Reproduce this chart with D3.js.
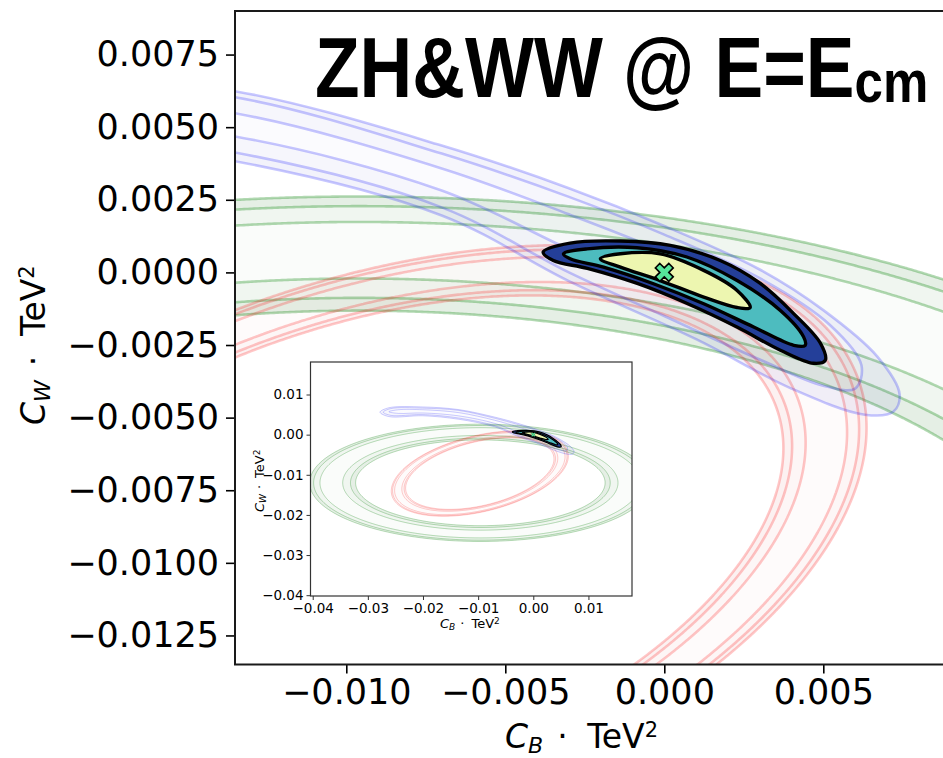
<!DOCTYPE html>
<html>
<head>
<meta charset="utf-8">
<script src="https://cdn.jsdelivr.net/npm/d3@7"></script>
<style>
  body { margin: 0; background: #fff; }
  svg { display: block; font-family: "DejaVu Sans", sans-serif; }
</style>
</head>
<body>
<svg id="chart" width="943" height="758"></svg>
<script>
// ---- data ----
const xTicks = [-0.010, -0.005, 0.000, 0.005];
const yTicks = [0.0075, 0.0050, 0.0025, 0.0000, -0.0025, -0.0050, -0.0075, -0.0100, -0.0125];
const insetXTicks = [-0.04, -0.03, -0.02, -0.01, 0.00, 0.01];
const insetYTicks = [0.01, 0.00, -0.01, -0.02, -0.03, -0.04];

// chi2 levels of the drawn contours (68%, 95%, 99% for 2 params)
const levels = [2.30, 5.99, 9.21];

// zero-locus ellipses of the single measurements: centre x, centre y, semi-axis a, semi-axis b, tilt (deg)
const redLocus = [-0.0097, -0.0097, 0.0156, 0.0085, 22];
const redSigma = 0.058;
const greenLocus = [-0.0096, -0.0120, 0.0271, 0.0128, 0];
const greenSigma = 0.10;

// blue band, contour lines (CB, CW)
const blue68 = [[-0.0262,0.0057],[-0.0245,0.0062],[-0.0200,0.0062],[-0.0135,0.00548],[-0.0070,0.00358],
  [-0.0030,0.0020],[0.0000,0.0007],[0.0025,-0.0006],[0.0040,-0.0016],[0.0038,-0.0023],[0.0025,-0.0017],
  [0.0000,-0.0006],[-0.0030,0.0008],[-0.0070,0.00282],[-0.0135,0.00468],[-0.0200,0.0054],[-0.0245,0.0053]];
const blue95 = [[-0.0272,0.0056],[-0.0258,0.0065],[-0.0200,0.0066],[-0.0135,0.00603],[-0.0070,0.00409],
  [-0.0030,0.0026],[0.0000,0.0013],[0.0030,-0.0002],[0.0052,-0.0018],[0.0062,-0.0032],[0.0060,-0.0040],
  [0.0050,-0.0039],[0.0030,-0.0030],[0.0000,-0.0015],[-0.0030,0.0000],[-0.0070,0.00224],[-0.0135,0.00413],
  [-0.0200,0.0050],[-0.0258,0.0048]];
const blue99 = [[-0.0278,0.0056],[-0.0262,0.0067],[-0.0200,0.0069],[-0.0135,0.00624],[-0.0070,0.00437],
  [-0.0030,0.0029],[0.0000,0.0016],[0.0030,0.0001],[0.0050,-0.0013],[0.0067,-0.0029],[0.0074,-0.0042],
  [0.0072,-0.0048],[0.0063,-0.0049],[0.0040,-0.0040],[0.0010,-0.0023],[-0.0030,-0.0003],[-0.0070,0.00196],
  [-0.0135,0.00383],[-0.0200,0.0047],[-0.0262,0.0045]];

// combined ZH & WW contours
const zhww68 = [[-0.00201,0.00047],[-0.00138,0.00064],[-0.00013,0.00064],[0.00124,0.00007],[0.00229,-0.00062],
  [0.00270,-0.00121],[0.00229,-0.00121],[0.00124,-0.00085],[-0.00013,-0.00028],[-0.00138,0.00018]];
const zhww95 = [[-0.00317,0.00064],[-0.00243,0.00081],[-0.00086,0.00085],[0.00071,0.00053],[0.00229,-0.00028],
  [0.00365,-0.00131],[0.00438,-0.00222],[0.00443,-0.00251],[0.00407,-0.00251],[0.00281,-0.00188],
  [0.00124,-0.00108],[-0.00034,-0.00039],[-0.00191,0.00018],[-0.00296,0.00047]];
const zhww99 = [[-0.00381,0.00070],[-0.00296,0.00101],[-0.00138,0.00108],[0.00019,0.00093],[0.00176,0.00041],
  [0.00302,-0.00038],[0.00406,-0.00141],[0.00491,-0.00244],[0.00506,-0.00303],[0.00469,-0.00313],
  [0.00365,-0.00268],[0.00230,-0.00189],[0.00072,-0.00107],[-0.00085,-0.00038],[-0.00242,0.00014],[-0.00349,0.00041]];
const bestFit = [0, 0];

// ---- colours ----
const redStyle = { line: "rgba(255,0,0,0.22)", fills: ["rgba(200,0,0,0.015)", "rgba(200,0,0,0.035)", "rgba(200,0,0,0.055)"] };
const greenStyle = { line: "rgba(0,128,0,0.30)", fills: ["rgba(0,100,0,0.02)", "rgba(0,100,0,0.06)", "rgba(0,100,0,0.10)"] };
const blueStyle = { line: "rgba(0,0,255,0.22)", fills: ["rgba(0,0,180,0.015)", "rgba(0,0,180,0.035)", "rgba(0,0,180,0.05)"] };
const zhwwFills = ["#edf6b0", "#4dbcbf", "#243f99"];

const svg = d3.select("#chart");

function chi2(e, s, x, y) {
  const t = e[4] * Math.PI / 180;
  const dx = x - e[0], dy = y - e[1];
  const u = dx * Math.cos(t) + dy * Math.sin(t);
  const v = -dx * Math.sin(t) + dy * Math.cos(t);
  const g = (u / e[2]) ** 2 + (v / e[3]) ** 2 - 1;
  return (g / s) ** 2;
}

// filled + lined contours of one measurement, with d3.contours on a pixel grid
function fieldBands(g, xs, ys, ell, sig, style, lw, step) {
  const pad = 4;
  const ox = xs.range()[0] - pad * step, oy = ys.range()[1] - pad * step;
  const nx = Math.ceil((xs.range()[1] - xs.range()[0]) / step) + 2 * pad;
  const ny = Math.ceil((ys.range()[0] - ys.range()[1]) / step) + 2 * pad;
  const vals = new Float64Array(nx * ny);
  for (let j = 0; j < ny; j++) {
    const cy = ys.invert(oy + (j + 0.5) * step);
    for (let i = 0; i < nx; i++) {
      vals[j * nx + i] = -chi2(ell, sig, xs.invert(ox + (i + 0.5) * step), cy);
    }
  }
  const polys = d3.contours().size([nx, ny]).thresholds(levels.map(l => -l).reverse())(vals);
  const proj = d3.geoTransform({ point(x, y) { this.stream.point(ox + x * step, oy + y * step); } });
  const path = d3.geoPath(proj);
  // polys: [chi2<=9.21, chi2<=5.99, chi2<=2.30]
  const d = polys.map(p => path(p) || "");
  g.append("path").attr("d", d[2]).attr("fill", style.fills[0]);
  g.append("path").attr("d", d[1] + d[2]).attr("fill", style.fills[1]).attr("fill-rule", "evenodd");
  g.append("path").attr("d", d[0] + d[1]).attr("fill", style.fills[2]).attr("fill-rule", "evenodd");
  d.forEach(s => g.append("path").attr("d", s).attr("fill", "none")
    .attr("stroke", style.line).attr("stroke-width", lw));
}

function loopBands(g, xs, ys, loops, style, lw) {
  const line = d3.line().x(p => xs(p[0])).y(p => ys(p[1])).curve(d3.curveCatmullRomClosed.alpha(0.5));
  const d = loops.map(l => line(l));
  g.append("path").attr("d", d[0]).attr("fill", style.fills[0]);
  g.append("path").attr("d", d[1] + d[0]).attr("fill", style.fills[1]).attr("fill-rule", "evenodd");
  g.append("path").attr("d", d[2] + d[1]).attr("fill", style.fills[2]).attr("fill-rule", "evenodd");
  d.forEach(s => g.append("path").attr("d", s).attr("fill", "none")
    .attr("stroke", style.line).attr("stroke-width", lw));
}

function combined(g, xs, ys, lw) {
  const line = d3.line().x(p => xs(p[0])).y(p => ys(p[1])).curve(d3.curveCatmullRomClosed.alpha(0.5));
  [zhww99, zhww95, zhww68].forEach((l, i) => {
    g.append("path").attr("d", line(l)).attr("fill", zhwwFills[2 - i])
      .attr("stroke", "#000").attr("stroke-width", lw).attr("stroke-linejoin", "round");
  });
}

function panel(g, xs, ys, lw, step, clipId) {
  g.append("clipPath").attr("id", clipId).append("rect")
    .attr("x", xs.range()[0]).attr("y", ys.range()[1])
    .attr("width", xs.range()[1] - xs.range()[0]).attr("height", ys.range()[0] - ys.range()[1]);
  const c = g.append("g").attr("clip-path", `url(#${clipId})`);
  fieldBands(c.append("g"), xs, ys, greenLocus, greenSigma, greenStyle, lw, step);
  fieldBands(c.append("g"), xs, ys, redLocus, redSigma, redStyle, lw, step);
  loopBands(c.append("g"), xs, ys, [blue68, blue95, blue99], blueStyle, lw);
  return c;
}

// mathtext-like label: C_sub · TeV^2
function mathLabel(t, sub, size, subSize, supSize, gap) {
  t.append("tspan").attr("font-style", "italic").text("C");
  t.append("tspan").attr("font-style", "italic").attr("font-size", subSize).attr("dy", size * 0.15).text(sub);
  t.append("tspan").attr("dy", -size * 0.15).attr("dx", gap).text("\u00b7");
  t.append("tspan").attr("dx", gap * 1.4).text("TeV");
  t.append("tspan").attr("font-size", supSize).attr("dy", -size * 0.34).text("2");
}

// ---- main axes ----
const x = d3.scaleLinear().domain([-0.0135, 0.009]).range([235, 950.5]);
const y = d3.scaleLinear().domain([-0.0135, 0.009]).range([664.5, 11]);
const main = svg.append("g");
const mc = panel(main, x, y, 2.6, 2, "clipMain");
combined(mc, x, y, 3.4);
mc.append("path")
  .attr("d", d3.symbol(d3.symbolCross, 200)())
  .attr("transform", `translate(${x(bestFit[0])},${y(bestFit[1])}) rotate(45)`)
  .attr("fill", "#55e69a").attr("stroke", "#000").attr("stroke-width", 1.6);

const xAxis = main.append("g").attr("transform", "translate(0,664.5)")
  .call(d3.axisBottom(x).tickValues(xTicks).tickFormat(d3.format(".3f")).tickSize(9).tickPadding(6));
const yAxis = main.append("g").attr("transform", "translate(235,0)")
  .call(d3.axisLeft(y).tickValues(yTicks).tickFormat(d3.format(".4f")).tickSize(9).tickPadding(7));
[xAxis, yAxis].forEach(a => {
  a.attr("font-family", "DejaVu Sans").attr("font-size", 35);
  a.select(".domain").remove();
  a.selectAll(".tick line").attr("stroke", "#000").attr("stroke-width", 1.6);
});
main.append("path").attr("d", "M950,11H235V664.5H950").attr("fill", "none")
  .attr("stroke", "#1a1a1a").attr("stroke-width", 2);

// axis titles
mathLabel(main.append("text").attr("x", 505).attr("y", 748).attr("font-size", 33), "B", 33, 22, 21, 14);
mathLabel(main.append("text").attr("transform", "translate(45,425) rotate(-90)").attr("font-size", 33), "W", 33, 22, 21, 14);

// title
const tt = main.append("text").attr("transform", "translate(315,97) scale(1,1.17)")
  .attr("font-family", "Liberation Sans").attr("font-weight", "bold").attr("font-size", 73);
tt.append("tspan").text("ZH&WW @ E=E");
tt.append("tspan").attr("font-size", 51).attr("dy", 4).text("cm");

// ---- inset ----
const ix = d3.scaleLinear().domain([-0.0404, 0.0179]).range([310.5, 632]);
const iy = d3.scaleLinear().domain([-0.0402, 0.0181]).range([596, 362]);
const inset = svg.append("g");
inset.append("rect").attr("x", 310.5).attr("y", 362).attr("width", 321.5).attr("height", 234).attr("fill", "#fff");
const ic = panel(inset, ix, iy, 0.9, 1, "clipInset");
combined(ic, ix, iy, 1.2);
ic.append("path")
  .attr("d", d3.symbol(d3.symbolCross, 12)())
  .attr("transform", `translate(${ix(bestFit[0])},${iy(bestFit[1])}) rotate(45)`)
  .attr("fill", "#55e69a").attr("stroke", "#000").attr("stroke-width", 0.3);
inset.append("rect").attr("x", 310.5).attr("y", 362).attr("width", 321.5).attr("height", 234)
  .attr("fill", "none").attr("stroke", "#333").attr("stroke-width", 1.2);
const ixa = inset.append("g").attr("transform", "translate(0,596)")
  .call(d3.axisBottom(ix).tickValues(insetXTicks).tickFormat(d3.format(".2f")).tickSize(4).tickPadding(3));
const iya = inset.append("g").attr("transform", "translate(310.5,0)")
  .call(d3.axisLeft(iy).tickValues(insetYTicks).tickFormat(d3.format(".2f")).tickSize(4).tickPadding(3));
[ixa, iya].forEach(a => {
  a.attr("font-family", "DejaVu Sans").attr("font-size", 13.5);
  a.select(".domain").remove();
  a.selectAll(".tick line").attr("stroke", "#333");
});
mathLabel(inset.append("text").attr("x", 440).attr("y", 628).attr("font-size", 13), "B", 13, 9, 9, 5);
mathLabel(inset.append("text").attr("transform", "translate(264,512) rotate(-90)").attr("font-size", 13), "W", 13, 9, 9, 5);
</script>
</body>
</html>
